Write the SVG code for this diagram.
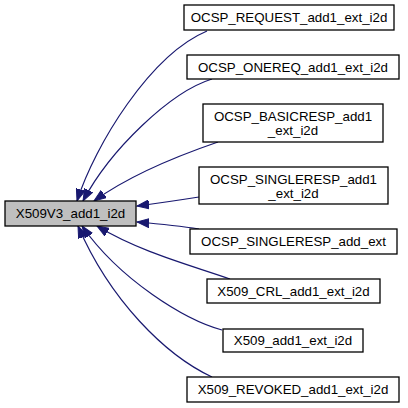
<svg xmlns="http://www.w3.org/2000/svg" width="408" height="408" viewBox="0 0 408 408">
<style>
.box{fill:#ffffff;stroke:#000000;stroke-width:1.3}
.main{fill:#bfbfbf;stroke:#000000;stroke-width:1.3}
.lbl{font-family:"Liberation Sans",Arial,sans-serif;font-size:13.3px;fill:#000000;text-anchor:middle}
.edge{fill:none;stroke:#191970;stroke-width:1.2;marker-end:url(#arr)}
</style>
<defs>
<marker id="arr" markerWidth="13" markerHeight="10" refX="12" refY="5" orient="auto" markerUnits="userSpaceOnUse">
<path d="M0,0.5 L12,5 L0,9.5 z" fill="#191970" stroke="#191970" stroke-width="1"/>
</marker>
</defs>
<rect width="408" height="408" fill="#ffffff"/>
<g id="edges">
<path class="edge" d="M207,31 C150,55 95,145 77,201"/>
<path class="edge" d="M212,79 C170,92 110,150 83,201"/>
<path class="edge" d="M218,142 C180,155 130,175 94,201"/>
<path class="edge" d="M199,197 C180,200 160,203 137,206"/>
<path class="edge" d="M199,229 C180,226 160,224 137,222"/>
<path class="edge" d="M230,279 C190,265 140,252 97,226"/>
<path class="edge" d="M222,330 C185,320 120,280 82,226"/>
<path class="edge" d="M212,377 C165,355 110,300 78,226"/>
</g>
<g id="X509V3_add1_i2d">
<rect class="main" x="5" y="201" width="131" height="25"/>
<text class="lbl" x="70.5" y="218">X509V3_add1_i2d</text>
</g>
<g id="OCSP_REQUEST_add1_ext_i2d">
<rect class="box" x="184" y="5" width="210" height="25"/>
<text class="lbl" x="289" y="22">OCSP_REQUEST_add1_ext_i2d</text>
</g>
<g id="OCSP_ONEREQ_add1_ext_i2d">
<rect class="box" x="187" y="55" width="212" height="24"/>
<text class="lbl" x="293" y="71.5">OCSP_ONEREQ_add1_ext_i2d</text>
</g>
<g id="OCSP_BASICRESP_add1_ext_i2d">
<rect class="box" x="203" y="104" width="180" height="38"/>
<text class="lbl" x="293" y="121">OCSP_BASICRESP_add1</text>
<text class="lbl" x="293" y="135">_ext_i2d</text>
</g>
<g id="OCSP_SINGLERESP_add1_ext_i2d">
<rect class="box" x="199" y="167" width="189" height="37"/>
<text class="lbl" x="293.5" y="184">OCSP_SINGLERESP_add1</text>
<text class="lbl" x="293.5" y="198">_ext_i2d</text>
</g>
<g id="OCSP_SINGLERESP_add_ext">
<rect class="box" x="190" y="229" width="207" height="25"/>
<text class="lbl" x="293.5" y="246">OCSP_SINGLERESP_add_ext</text>
</g>
<g id="X509_CRL_add1_ext_i2d">
<rect class="box" x="207" y="279" width="173" height="24"/>
<text class="lbl" x="293.5" y="295.5">X509_CRL_add1_ext_i2d</text>
</g>
<g id="X509_add1_ext_i2d">
<rect class="box" x="223" y="329" width="140" height="23"/>
<text class="lbl" x="293" y="345">X509_add1_ext_i2d</text>
</g>
<g id="X509_REVOKED_add1_ext_i2d">
<rect class="box" x="187" y="377" width="212" height="25"/>
<text class="lbl" x="293" y="394">X509_REVOKED_add1_ext_i2d</text>
</g>
</svg>
